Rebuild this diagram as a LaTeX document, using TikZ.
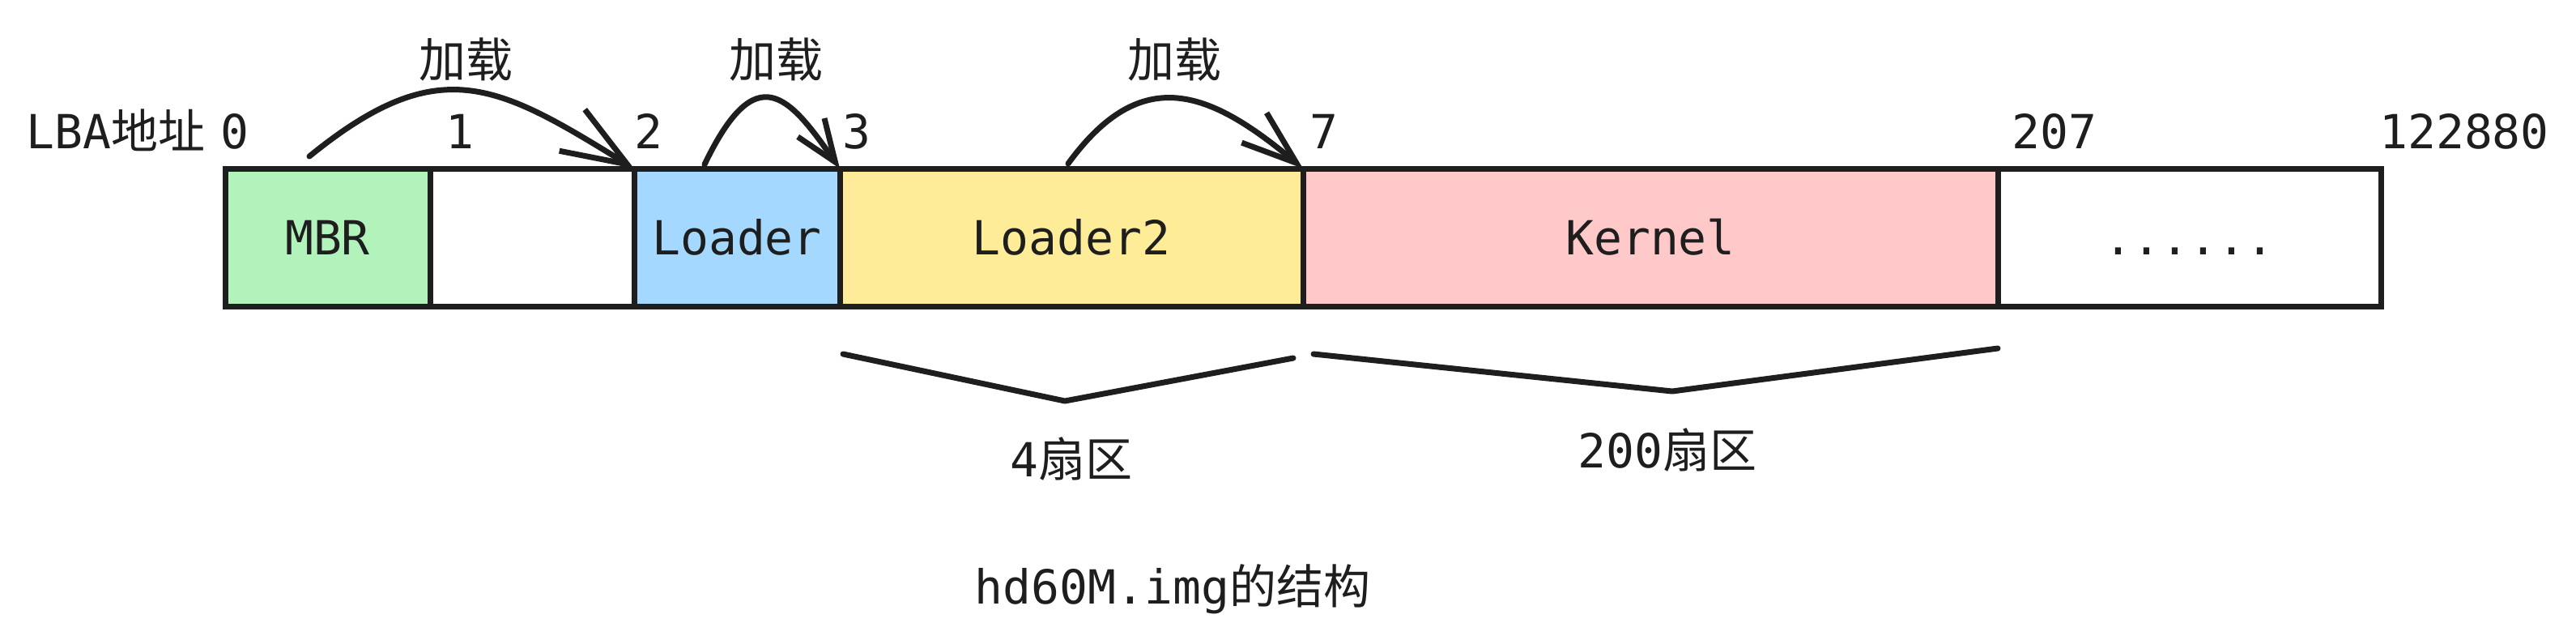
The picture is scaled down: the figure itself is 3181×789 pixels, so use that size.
\documentclass[tikz,border=0pt]{standalone}
\usepackage{fontspec}
\setmainfont{DejaVu Sans Mono}
\setmonofont{DejaVu Sans Mono}
\newfontfamily\cjk{Noto Sans CJK SC}
\usetikzlibrary{arrows.meta,calc}
\definecolor{ink}{HTML}{1E1E1E}
\definecolor{mbrgreen}{HTML}{B2F2BB}
\definecolor{ldblue}{HTML}{A5D8FF}
\definecolor{ldyellow}{HTML}{FFEC99}
\definecolor{krpink}{HTML}{FFC9C9}
\tikzset{
  txt/.style={font=\fontsize{29pt}{34pt}\selectfont, text=ink, inner sep=0pt},
  secbox/.style={draw=ink, line width=3.5pt, minimum height=85pt, inner sep=0pt, outer sep=0pt,
    font=\fontsize{29pt}{34pt}\selectfont, text=ink, text height=21pt, text depth=0pt},
  loadarrow/.style 2 args={draw=ink, line width=3.5pt, line cap=round,
    -{Straight Barb[length=#1,width=#2,line width=3.5pt]}},
  bracket/.style={draw=ink, line width=3.5pt, line cap=round, line join=round},
}
\begin{document}
\begin{tikzpicture}[x=0.5pt,y=-0.5pt]
\useasboundingbox (0,0) rectangle (3181,789);
% sector boxes
\node[secbox, fill=mbrgreen, minimum width=126.5pt] (mbr) at (404.5,293) {MBR};
\node[secbox, fill=white, minimum width=126pt] (blank) at (657,293) {};
\node[secbox, fill=ldblue, minimum width=127pt] (loader) at (910,293) {Loader};
\node[secbox, fill=ldyellow, minimum width=286pt] (loader2) at (1323,293) {Loader2};
\node[secbox, fill=krpink, minimum width=429pt] (kernel) at (2038,293) {Kernel};
\node[secbox, fill=white, minimum width=236.5pt] (rest) at (2703.5,293) {......};
% LBA addresses
\node[txt, anchor=base east] (lba0) at (308,183) {LBA{\cjk 地址}\hspace{9.5pt}0};
\node[txt, anchor=base] (lba1) at (568,183) {1};
\node[txt, anchor=base] (lba2) at (801,183) {2};
\node[txt, anchor=base] (lba3) at (1058,183) {3};
\node[txt, anchor=base] (lba7) at (1635,183) {7};
\node[txt, anchor=base] (lba207) at (2537,183) {207};
\node[txt, anchor=base] (lbaend) at (3043,183) {122880};
% load arrows
\draw[loadarrow={40pt}{30pt}] ($(mbr.north west)+(104,-15)$) .. controls +(160,-130) and +(-170,-105) .. (loader.north west);
\draw[loadarrow={26pt}{20pt}] ($(loader.north west)+(87,-5)$) .. controls +(64,-133) and +(-63,-90) .. (loader2.north west);
\draw[loadarrow={34pt}{24pt}] ($(loader2.north)+(-4,-6)$) .. controls +(91,-125) and +(-115,-96) .. (kernel.north west);
\node[txt, anchor=base] (load1) at (575,95) {\cjk 加载};
\node[txt, anchor=base] (load2) at (958,95) {\cjk 加载};
\node[txt, anchor=base] (load3) at (1450,95) {\cjk 加载};
% brackets
\draw[bracket] (1041,437) -- (1315,495) -- (1597,442);
\draw[bracket] (1622,437) -- (2065,483) -- (2467,430);
\node[txt, anchor=base] (four) at (1323,588) {4{\cjk 扇区}};
\node[txt, anchor=base] (twohundred) at (2059,577) {200{\cjk 扇区}};
% caption
\node[txt, anchor=base] (caption) at (1448,745) {hd60M.img{\cjk 的结构}};
\end{tikzpicture}
\end{document}
